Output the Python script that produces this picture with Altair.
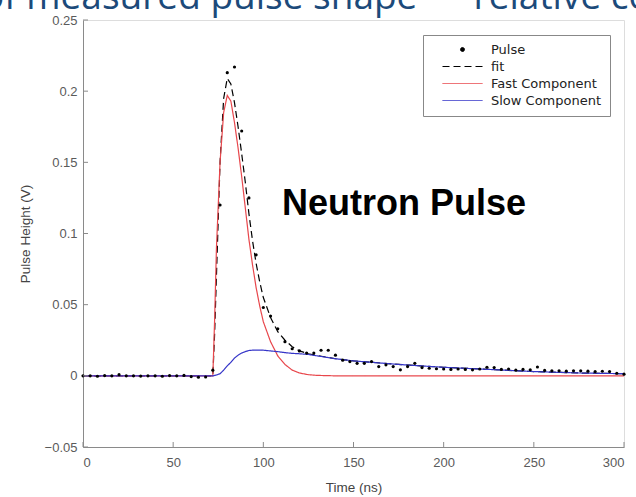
import altair as alt
import pandas as pd

# ---------------- data ----------------
# measured pulse (dots), sampled every 4 ns
pulse_t = list(range(0, 301, 4))
pulse_v = [0.0, 0.0, -0.0003, 0.0002, 0.0, 0.0008, 0.0, 0.0, -0.0002, 0.0,
           0.0, -0.0003, 0.0002, 0.0, 0.0003, -0.0005, -0.001, -0.0008,
           0.004, 0.12, 0.213, 0.217, 0.172, 0.125, 0.085, 0.048,
           0.042, 0.033, 0.024, 0.019, 0.0175, 0.016, 0.016, 0.018,
           0.018, 0.0145, 0.011, 0.010, 0.0088, 0.0088, 0.010, 0.0065,
           0.0077, 0.0065, 0.0042, 0.0065, 0.0088, 0.0058, 0.0053, 0.005,
           0.0048, 0.0045, 0.0048, 0.0045, 0.0042, 0.0048, 0.006, 0.0058,
           0.0045, 0.0048, 0.004, 0.0045, 0.0042, 0.0062, 0.0038, 0.0035,
           0.0035, 0.0033, 0.0035, 0.0035, 0.0033, 0.003, 0.0032, 0.003,
           0.0018, 0.0012]

# curves (read at these times)
curve_t = [0, 70, 72, 73, 74, 76, 78, 80, 82, 84, 86, 88, 90, 92, 94, 96, 98,
           100, 104, 108, 112, 116, 120, 125, 130, 140, 150, 175, 200, 225,
           250, 275, 300]
fit_v = [0.0, 0.0, 0.0, 0.03, 0.07, 0.15, 0.195, 0.209, 0.205, 0.192, 0.175,
         0.156, 0.136, 0.114, 0.095, 0.079, 0.066, 0.055, 0.041, 0.031,
         0.025, 0.0205, 0.0175, 0.0155, 0.0143, 0.012, 0.0105, 0.008,
         0.006, 0.0045, 0.003, 0.002, 0.0015]
fast_v = [0.0, 0.0, 0.0, 0.04, 0.09, 0.15, 0.185, 0.197, 0.193, 0.178, 0.16,
          0.14, 0.118, 0.096, 0.078, 0.062, 0.049, 0.038, 0.024, 0.014,
          0.008, 0.004, 0.002, 0.0008, 0.0003, 0.0, 0.0, 0.0, 0.0, 0.0,
          0.0, 0.0, 0.0]
slow_v = [0.0, 0.0, 0.0, 0.0003, 0.0006, 0.0015, 0.004, 0.007, 0.0095,
          0.0125, 0.0145, 0.016, 0.017, 0.0178, 0.018, 0.018, 0.018, 0.018,
          0.0175, 0.017, 0.0163, 0.0158, 0.0155, 0.015, 0.014, 0.012,
          0.0105, 0.008, 0.006, 0.0045, 0.003, 0.002, 0.0015]

series_names = ["Pulse", "fit", "Fast Component", "Slow Component"]
series_colors = ["#000000", "#000000", "#e8474c", "#3535c8"]

x_ticks = [0, 50, 100, 150, 200, 250, 300]
y_ticks = [-0.05, 0, 0.05, 0.1, 0.15, 0.2, 0.25]

annotation = "Neutron Pulse"
banner = "of measured pulse shape \u2014 relative contributions"

# ---------------- tables ----------------
pulse_df = pd.DataFrame({"t": pulse_t, "v": pulse_v, "series": "Pulse"})
curves_df = pd.concat([
    pd.DataFrame({"t": curve_t, "v": fit_v, "series": "fit"}),
    pd.DataFrame({"t": curve_t, "v": fast_v, "series": "Fast Component"}),
    pd.DataFrame({"t": curve_t, "v": slow_v, "series": "Slow Component"}),
])
xt_df = pd.DataFrame({"t": x_ticks})
yt_df = pd.DataFrame({"v": y_ticks})

FONT = "Liberation Sans"
AX = "#8a8a8a"
LAB = "#5a5a5a"

xscale = alt.Scale(domain=[0, 300], nice=False, zero=False)
yscale = alt.Scale(domain=[-0.05, 0.25], nice=False, zero=False)

DOT = "M-0.4,0a0.4,0.4 0 1,0 0.8,0a0.4,0.4 0 1,0 -0.8,0Z"
SEG = "M-4,0H4"

color = alt.Color(
    "series:N",
    scale=alt.Scale(domain=series_names, range=series_colors),
    legend=alt.Legend(
        title=None, orient="none", legendX=340, legendY=15,
        fillColor="white", strokeColor="#888888", padding=8,
        labelFont="DejaVu Sans", labelFontSize=13, labelColor="#222222",
        symbolType=alt.ExprRef(expr=f"datum.value === 'Pulse' ? '{DOT}' : '{SEG}'"),
        symbolSize=100, symbolStrokeWidth=1, symbolOffset=25,
        symbolFillColor=alt.ExprRef(expr="datum.value === 'Pulse' ? '#000000' : 'transparent'"),
        symbolDash=alt.ExprRef(expr="datum.value === 'fit' ? [7, 4] : [1, 0]"),
        rowPadding=3, labelOffset=22,
    ),
)

xenc = alt.X("t:Q", scale=xscale, title="Time (ns)",
             axis=alt.Axis(values=x_ticks, ticks=False, grid=False,
                           domainColor=AX, labelColor=LAB, titleColor="#444444",
                           labelFont=FONT, titleFont=FONT, labelFontSize=13,
                           titleFontSize=13.5, titleFontWeight="normal",
                           labelPadding=9, titlePadding=11))
yenc = alt.Y("v:Q", scale=yscale, title="Pulse Height (V)",
             axis=alt.Axis(values=y_ticks, ticks=False, grid=False,
                           domainColor=AX, labelColor=LAB, titleColor="#444444",
                           labelFont=FONT, titleFont=FONT, labelFontSize=13,
                           titleFontSize=13.5, titleFontWeight="normal",
                           labelPadding=6, titlePadding=12, format="~g"))

lines = alt.Chart(curves_df).mark_line(strokeWidth=1.2).encode(
    x=xenc, y=yenc, color=color,
    strokeDash=alt.StrokeDash(
        "series:N",
        scale=alt.Scale(domain=series_names, range=[[1, 0], [7, 4], [1, 0], [1, 0]]),
        legend=None),
    detail="series:N",
)

points = alt.Chart(pulse_df).mark_point(filled=True, size=10, opacity=1).encode(
    x=alt.X("t:Q", scale=xscale), y=alt.Y("v:Q", scale=yscale), color=color,
)

xticks = alt.Chart(xt_df).mark_rule(color=AX, strokeWidth=1).encode(
    x=alt.X("t:Q", scale=xscale), y=alt.value(427), y2=alt.value(422))
yticks = alt.Chart(yt_df).mark_rule(color=AX, strokeWidth=1).encode(
    y=alt.Y("v:Q", scale=yscale), x=alt.value(0), x2=alt.value(5))

note = alt.Chart(pd.DataFrame({"s": [annotation]})).mark_text(
    font=FONT, fontSize=36, fontWeight="bold", color="#000000",
    align="center", baseline="middle").encode(
    x=alt.datum(178), y=alt.datum(0.121), text="s:N")

top = alt.Chart(pd.DataFrame({"s": [banner]})).mark_text(
    font="Open Sans", fontSize=37, color="#1c4a7a",
    align="left", baseline="alphabetic").encode(
    x=alt.value(-101), y=alt.value(-11), text="s:N")

chart = alt.layer(lines, points, xticks, yticks, note, top).properties(
    width=541, height=427,
    autosize=alt.AutoSizeParams(type="none"),
    padding={"left": 83, "top": 20, "right": 12, "bottom": 50},
).configure_view(stroke=None).configure(background="white")

chart.save("out.html", embed_options={"renderer": "svg", "actions": False})
